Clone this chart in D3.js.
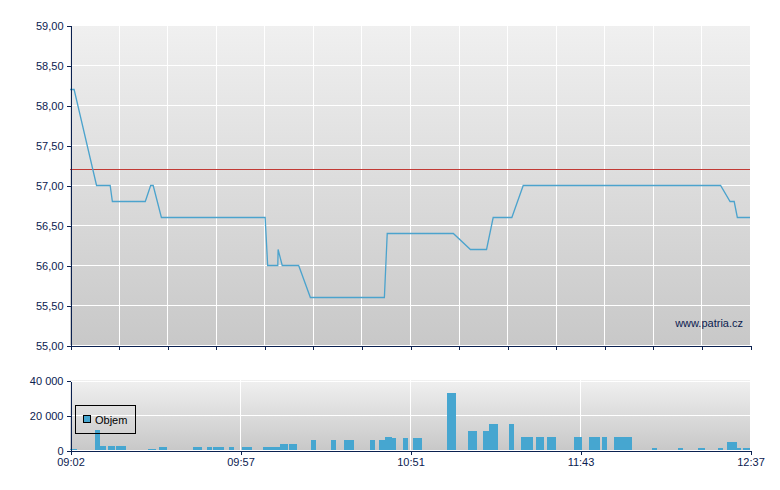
<!DOCTYPE html>
<html>
<head>
<meta charset="utf-8">
<script src="https://cdn.jsdelivr.net/npm/d3@7"></script>
<style>
  html, body { margin: 0; padding: 0; background: #ffffff; }
  svg { display: block; }
  text { font-family: "Liberation Sans", Arial, sans-serif; }
</style>
</head>
<body>
<svg id="chart" width="780" height="490"></svg>
<script>
// ---- data (minutes after 09:02) ----
const timeLabels = ["09:02", "09:57", "10:51", "11:43", "12:37"];
const sessionMinutes = [0, 215];

const priceTime  = [0, 1.3, 8.4, 12.7, 13.4, 23.8, 25.5, 26.3, 28.9, 61.7, 62.5, 65.7, 65.8, 67.1, 72.3, 76.0, 99.4, 100.3, 121.2, 126.6, 131.7, 133.8, 139.7, 143.3, 205.7, 208.7, 210.0, 211.0, 215];
const priceValue = [58.20, 58.20, 57.00, 57.00, 56.80, 56.80, 57.00, 57.00, 56.60, 56.60, 56.00, 56.00, 56.20, 56.00, 56.00, 55.60, 55.60, 56.40, 56.40, 56.20, 56.20, 56.60, 56.60, 57.00, 57.00, 56.80, 56.80, 56.60, 56.60];

const refPrice = [57.20];
const priceTicks = [55.0, 55.5, 56.0, 56.5, 57.0, 57.5, 58.0, 58.5, 59.0];

const volStart = [0, 7.8, 9.5, 12.0, 14.5, 24.7, 28.1, 38.9, 43.3, 45.2, 50.3, 54.4, 61.0, 66.4, 69.2, 76.2, 82.5, 86.6, 94.9, 97.7, 99.6, 101.8, 105.3, 108.4, 119.2, 125.8, 130.6, 132.5, 138.8, 142.6, 147.3, 150.8, 159.4, 164.1, 168.2, 172.0, 184.0, 192.2, 198.6, 204.9, 207.8, 211.0, 212.8];
const volEnd   = [2.2, 9.5, 11.5, 14.2, 17.7, 27.1, 30.7, 41.7, 44.9, 48.7, 51.9, 57.5, 66.4, 68.9, 71.8, 77.8, 84.1, 89.8, 96.4, 99.6, 101.8, 103.1, 106.9, 111.3, 122.0, 128.7, 132.5, 135.3, 140.4, 146.4, 149.9, 153.7, 161.9, 167.6, 169.8, 177.7, 185.6, 193.8, 200.8, 206.5, 211.0, 212.2, 215];
const volValue = [700, 11700, 2300, 2300, 2300, 700, 1900, 1700, 1700, 1700, 1700, 1700, 1700, 3500, 3500, 5800, 5800, 5800, 5800, 5800, 7500, 6900, 6900, 6900, 33000, 11000, 11000, 15000, 15000, 7500, 7500, 7500, 7500, 7500, 7500, 7500, 1200, 1200, 1200, 1200, 4600, 1200, 1200];
const volTicks = [0, 20000, 40000];
const legendLabel = ["Objem"];
const watermark = ["www.patria.cz"];

// ---- layout ----
const navy = "#0b2150";
const lineColor = "#4ba3cd";
const barColor = "#46a6d0";
const svg = d3.select("#chart");

const defs = svg.append("defs");
const grad = defs.append("linearGradient").attr("id", "bg").attr("x1", 0).attr("y1", 0).attr("x2", 0).attr("y2", 1);
grad.append("stop").attr("offset", "0%").attr("stop-color", "#f0f0f0");
grad.append("stop").attr("offset", "100%").attr("stop-color", "#c8c8c8");

const x = d3.scaleLinear().domain(sessionMinutes).range([70, 750]);
const yP = d3.scaleLinear().domain([55, 59]).range([345, 25]);
const yV = d3.scaleLinear().domain([0, 40000]).range([450, 380.5]);

const priceFmt = d => d3.format(".2f")(d).replace(".", ",");
const volLocale = d3.formatLocale({decimal: ",", thousands: " ", grouping: [3], currency: ["", ""]});
const volFmt = volLocale.format(",");

// ---- main price panel ----
svg.append("rect").attr("x", 70).attr("y", 25).attr("width", 680).attr("height", 320).attr("fill", "url(#bg)");

const gridTimes = d3.range(15).map(i => i * 215 / 14);
const gMain = svg.append("g").attr("shape-rendering", "crispEdges");
gMain.selectAll("line.hg").data(priceTicks.slice(1)).join("line")
  .attr("x1", 70).attr("x2", 750)
  .attr("y1", d => Math.round(yP(d)) + 0.5).attr("y2", d => Math.round(yP(d)) + 0.5)
  .attr("stroke", "#ffffff").attr("stroke-width", 1);
gMain.selectAll("line.vg").data(gridTimes.slice(1, -1)).join("line")
  .attr("x1", d => Math.round(x(d)) + 0.5).attr("x2", d => Math.round(x(d)) + 0.5)
  .attr("y1", 25).attr("y2", 345)
  .attr("stroke", "#ffffff").attr("stroke-width", 1);

// reference line
svg.append("g").attr("shape-rendering", "crispEdges").selectAll("line").data(refPrice).join("line")
  .attr("x1", 70).attr("x2", 750)
  .attr("y1", d => Math.round(yP(d)) + 0.5).attr("y2", d => Math.round(yP(d)) + 0.5)
  .attr("stroke", "#c23a35").attr("stroke-width", 1);

// price line
const priceData = priceTime.map((t, i) => ({t, v: priceValue[i]}));
svg.append("path").datum(priceData)
  .attr("fill", "none").attr("stroke", lineColor).attr("stroke-width", 1.3)
  .attr("d", d3.line().x(d => x(d.t)).y(d => yP(d.v) + 0.5));

// watermark
svg.append("text").attr("x", 743).attr("y", 327).attr("text-anchor", "end")
  .attr("font-size", 11).attr("fill", navy).text(watermark[0]);

// axes main
const yAxisP = d3.axisLeft(yP).tickValues(priceTicks).tickFormat(priceFmt).tickSize(4).tickSizeOuter(0).tickPadding(3);
const gyP = svg.append("g").attr("transform", "translate(70.5,0.5)").call(yAxisP);
const xAxisP = d3.axisBottom(x).tickValues(gridTimes).tickFormat("").tickSize(4).tickSizeOuter(0);
const gxP = svg.append("g").attr("transform", "translate(0.5,345.5)").call(xAxisP);

// ---- volume panel ----
svg.append("rect").attr("x", 70).attr("y", 380).attr("width", 680).attr("height", 70).attr("fill", "url(#bg)");
const labelTimes = d3.range(5).map(i => i * 215 / 4);
const gVol = svg.append("g").attr("shape-rendering", "crispEdges");
gVol.selectAll("line.hg").data(volTicks.slice(1)).join("line")
  .attr("x1", 70).attr("x2", 750)
  .attr("y1", d => Math.round(yV(d)) + 0.5).attr("y2", d => Math.round(yV(d)) + 0.5)
  .attr("stroke", "#ffffff").attr("stroke-width", 1);
gVol.selectAll("line.vg").data(labelTimes.slice(1, -1)).join("line")
  .attr("x1", d => Math.round(x(d)) + 0.5).attr("x2", d => Math.round(x(d)) + 0.5)
  .attr("y1", 380).attr("y2", 450)
  .attr("stroke", "#ffffff").attr("stroke-width", 1);

const volData = volStart.map((s, i) => ({s, e: volEnd[i], v: volValue[i]}));
svg.append("g").attr("shape-rendering", "crispEdges").selectAll("rect").data(volData).join("rect")
  .attr("x", d => Math.round(x(d.s)))
  .attr("width", d => Math.max(1, Math.round(x(d.e)) - Math.round(x(d.s))))
  .attr("y", d => Math.round(yV(d.v)))
  .attr("height", d => 450 - Math.round(yV(d.v)))
  .attr("fill", barColor);

// legend
const lg = svg.append("g").attr("shape-rendering", "crispEdges");
lg.append("rect").attr("x", 75.5).attr("y", 405.5).attr("width", 60).attr("height", 28)
  .attr("fill", "none").attr("stroke", "#000000").attr("stroke-width", 1);
lg.append("rect").attr("x", 83.5).attr("y", 415.5).attr("width", 7).attr("height", 7)
  .attr("fill", barColor).attr("stroke", "#000000").attr("stroke-width", 1);
svg.append("text").attr("x", 95).attr("y", 424).attr("font-size", 11).attr("fill", "#000000").text(legendLabel[0]);

// axes volume
const yAxisV = d3.axisLeft(yV).tickValues(volTicks).tickFormat(volFmt).tickSize(4).tickSizeOuter(0).tickPadding(3);
const gyV = svg.append("g").attr("transform", "translate(70.5,0.5)").call(yAxisV);
const xAxisV = d3.axisBottom(x).tickValues(labelTimes).tickFormat((d, i) => timeLabels[i]).tickSize(4).tickSizeOuter(0).tickPadding(4);
const gxV = svg.append("g").attr("transform", "translate(0.5,450.5)").call(xAxisV);

[gyP, gxP, gyV, gxV].forEach(g => {
  g.attr("shape-rendering", "crispEdges");
  g.selectAll("path.domain").attr("stroke", navy).attr("stroke-width", 1);
  g.selectAll(".tick line").attr("stroke", navy);
  g.selectAll(".tick text").attr("fill", navy).attr("font-size", 11)
    .attr("font-family", "'Liberation Sans', Arial, sans-serif");
});
</script>
</body>
</html>
